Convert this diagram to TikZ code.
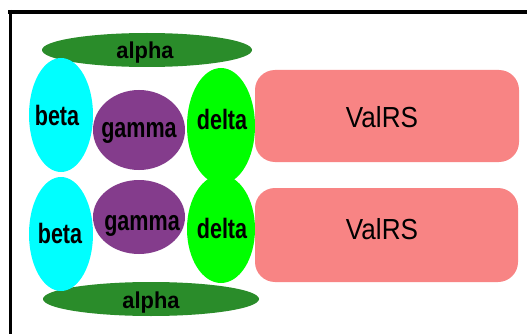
\documentclass[tikz,border=0pt]{standalone}
\usepackage{fontspec}
\usetikzlibrary{shapes.geometric}
\newfontfamily\narrowbold{Liberation Sans}[FakeStretch=0.77]
\newfontfamily\alphabold{Liberation Sans}[FakeStretch=0.95]
\newfontfamily\boxfont{Liberation Sans}[FakeStretch=0.9]
\definecolor{alphagreen}{HTML}{2A8C2A}
\definecolor{betacyan}{HTML}{00FFFF}
\definecolor{gammapurple}{HTML}{843C8C}
\definecolor{deltagreen}{HTML}{00FF00}
\definecolor{boxpink}{HTML}{F88484}
\begin{document}
\begin{tikzpicture}[x=1pt,y=-1pt,
  blob/.style={ellipse,inner sep=0pt,draw=none},
  alphablob/.style={blob,fill=alphagreen,minimum height=34pt},
  betablob/.style={blob,fill=betacyan,minimum width=64pt,minimum height=114pt},
  gammablob/.style={blob,fill=gammapurple,minimum width=92pt},
  deltablob/.style={blob,fill=deltagreen,minimum width=68pt},
  valbox/.style={rectangle,rounded corners=20pt,fill=boxpink,inner sep=0pt},
  lbl/.style={anchor=base,inner sep=0pt,font=\narrowbold\bfseries\fontsize{28}{28}\selectfont},
  alphalbl/.style={anchor=base,inner sep=0pt,font=\alphabold\bfseries\fontsize{23}{23}\selectfont},
  boxlbl/.style={anchor=base,inner sep=0pt,font=\boxfont\fontsize{29}{29}\selectfont}]
\useasboundingbox (0,0) rectangle (527,334);
\fill[white] (0,0) rectangle (527,334);

% frame
\draw[line width=4pt] (8,12) -- (527,12);
\draw[line width=3pt] (10.5,10) -- (10.5,334);

% upper row
\node[alphablob,minimum width=210pt] (alphaT) at (147,50) {};
\node[betablob] (betaT) at (61,115) {};
\node[gammablob,minimum height=80pt] (gammaT) at (139,130) {};
\node[deltablob,minimum height=116pt] (deltaT) at (221,126) {};
\node[valbox,minimum width=264pt,minimum height=92pt] (valT) at (387,116) {};

% lower row
\node[alphablob,minimum width=216pt] (alphaB) at (151,299) {};
\node[betablob] (betaB) at (61,234) {};
\node[gammablob,minimum height=74pt] (gammaB) at (139,217) {};
\node[deltablob,minimum height=108pt] (deltaB) at (221,229) {};
\node[valbox,minimum width=263pt,minimum height=94pt] (valB) at (386.5,235) {};

% labels
\node[alphalbl] (alphaTt) at (145,59) {alpha};
\node[lbl] (betaTt) at (57,125) {beta};
\node[lbl] (gammaTt) at (139,137) {gamma};
\node[lbl] (deltaTt) at (222,129) {delta};
\node[boxlbl] (valTt) at (382,128) {ValRS};

\node[lbl] (betaBt) at (60,243) {beta};
\node[lbl] (gammaBt) at (142,230) {gamma};
\node[lbl] (deltaBt) at (222,238) {delta};
\node[boxlbl] (valBt) at (382,239) {ValRS};
\node[alphalbl] (alphaBt) at (151,308) {alpha};
\end{tikzpicture}
\end{document}
